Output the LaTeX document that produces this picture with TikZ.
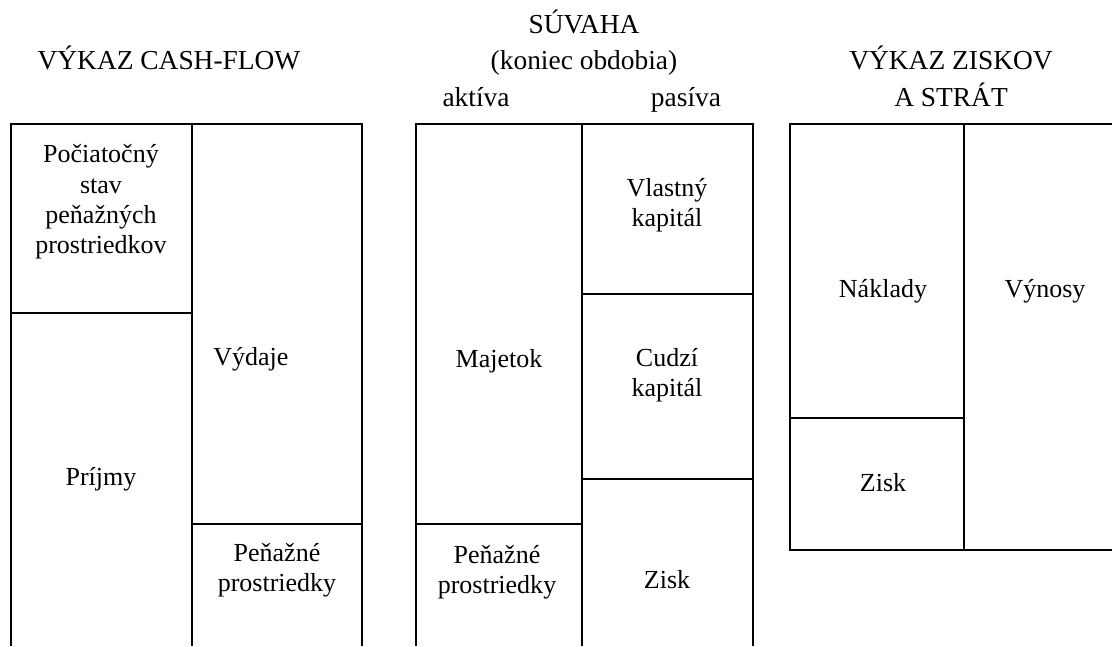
\documentclass[tikz,border=0pt]{standalone}
\usepackage{fontspec}
\setmainfont{Liberation Serif}
\tikzset{
	frame/.style={line width=1.3pt},
	lbl/.style={font=\fontsize{18.5}{21.5}\selectfont, align=center, inner sep=0pt},
	ttl/.style={font=\fontsize{19.5}{24}\selectfont, inner sep=0pt, anchor=base}
}
\begin{document}
\begin{tikzpicture}[x=0.025cm,y=-0.025cm]
		\useasboundingbox (0,0) rectangle (1112,646);
		% cash-flow
		\begin{scope}
		\draw[frame] (11,646) -- (11,124) -- (362,124) -- (362,646);
		\draw[frame] (192,124) -- (192,646);
		\draw[frame] (11,313) -- (192,313);
		\draw[frame] (192,524) -- (362,524);
		\node[ttl] (cashflow) at (169,69) {VÝKAZ CASH-FLOW};
		\node[lbl] (pociatocny) at (101,202) {Počiatočný\\stav\\peňažných\\prostriedkov};
		\node[lbl,anchor=west] (vydaje) at (213,359) {Výdaje};
		\node[lbl] (prijmy) at (101,479) {Príjmy};
		\node[lbl] (penazneA) at (277,570) {Peňažné\\prostriedky};
		\end{scope}
		% suvaha
		\begin{scope}
		\draw[frame] (416,646) -- (416,124) -- (753,124) -- (753,646);
		\draw[frame] (582,124) -- (582,646);
		\draw[frame] (416,524) -- (582,524);
		\foreach \y in {294,479}
		{
			\draw[frame] (582,\y) -- (753,\y);
		}
		\node[ttl] (suvaha) at (584,33) {SÚVAHA};
		\node[ttl] (obdobie) at (584,69) {(koniec obdobia)};
		\node[ttl] (aktiva) at (476,106) {aktíva};
		\node[ttl] (pasiva) at (686,106) {pasíva};
		\node[lbl] (majetok) at (499,361) {Majetok};
		\node[lbl] (penazneB) at (497,572) {Peňažné\\prostriedky};
		\node[lbl] (vlastny) at (667,205) {Vlastný\\kapitál};
		\node[lbl] (cudzi) at (667,375) {Cudzí\\kapitál};
		\node[lbl] (ziskA) at (667,580) {Zisk};
		\end{scope}
		% zisky a straty
		\begin{scope}
		\draw[frame] (1112,124) -- (790,124) -- (790,550) -- (1112,550);
		\draw[frame] (964,124) -- (964,550);
		\draw[frame] (790,418) -- (964,418);
		\node[ttl] (ziskov) at (951,69) {VÝKAZ ZISKOV};
		\node[ttl] (strat) at (951,106) {A STRÁT};
		\node[lbl] (naklady) at (883,291) {Náklady};
		\node[lbl] (vynosy) at (1045,291) {Výnosy};
		\node[lbl] (ziskB) at (883,483) {Zisk};
		\end{scope}
\end{tikzpicture}
\end{document}
